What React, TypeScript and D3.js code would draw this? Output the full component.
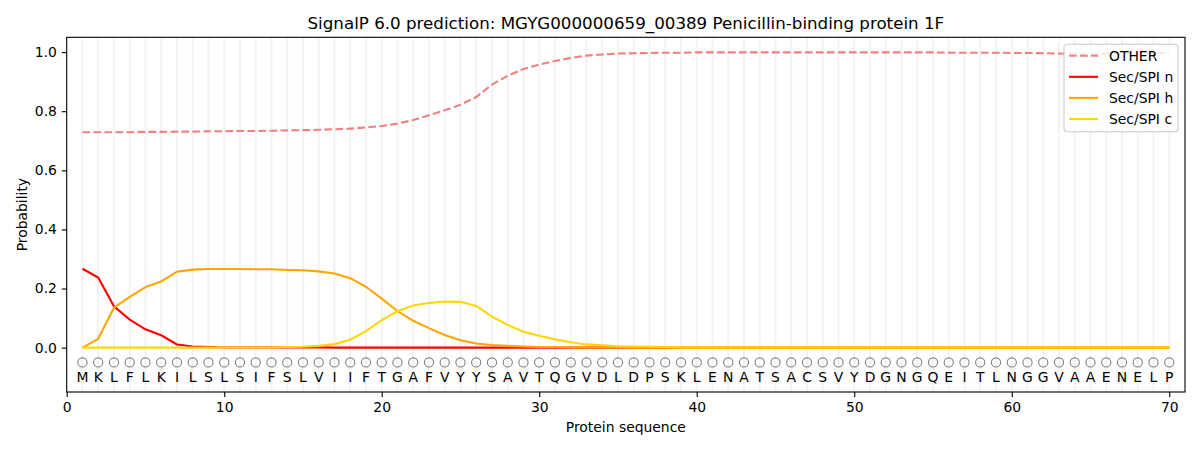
import { useRef, useEffect } from 'react';
import * as d3 from 'd3';

const sequence = 'MKLFLKILSLSIFSLVIIFTGAFVYYSAVTQGVDLDPSKLENATSACSVYDGNGQEITLNGGVAAENELP'.split('');

const otherProb = [
  0.729, 0.729, 0.729, 0.729, 0.73, 0.73, 0.731, 0.731, 0.732, 0.732,
  0.733, 0.733, 0.734, 0.735, 0.736, 0.737, 0.739, 0.741, 0.745, 0.75,
  0.758, 0.77, 0.786, 0.803, 0.822, 0.848, 0.89, 0.92, 0.943, 0.958,
  0.97, 0.98, 0.988, 0.992, 0.995, 0.996, 0.997, 0.998, 0.998, 0.999,
  0.999, 0.999, 0.999, 0.999, 0.999, 0.999, 0.999, 0.999, 0.999, 0.999,
  0.999, 0.999, 0.999, 0.999, 0.999, 0.998, 0.998, 0.998, 0.998, 0.997,
  0.997, 0.996, 0.995, 0.994, 0.994, 0.995, 0.995, 0.996, 0.996, 0.997,
];

const secN = [
  0.267, 0.237, 0.14, 0.095, 0.062, 0.042, 0.011, 0.004, 0.002, 0.001,
  0.001, 0.001, 0.001, 0.001, 0.001, 0.001, 0, 0, 0, 0,
  0, 0, 0, 0, 0, 0, 0, 0, 0, 0,
  0, 0, 0, 0, 0, 0, 0, 0, 0, 0,
  0, 0, 0, 0, 0, 0, 0, 0, 0, 0,
  0, 0, 0, 0, 0, 0, 0, 0, 0, 0,
  0, 0, 0, 0, 0, 0, 0, 0, 0, 0,
];

const secH = [
  0, 0.03, 0.135, 0.172, 0.205, 0.224, 0.257, 0.264, 0.266, 0.266,
  0.266, 0.265, 0.265, 0.263, 0.262, 0.258, 0.251, 0.235, 0.206, 0.166,
  0.124, 0.091, 0.066, 0.043, 0.025, 0.014, 0.009, 0.006, 0.004, 0.002,
  0.002, 0.001, 0.001, 0.001, 0.001, 0, 0, 0, 0, 0,
  0, 0, 0, 0, 0, 0, 0, 0, 0, 0,
  0, 0, 0, 0, 0, 0, 0, 0, 0, 0,
  0, 0, 0, 0, 0, 0, 0, 0, 0, 0,
];

const secC = [
  0, 0, 0, 0, 0, 0, 0, 0, 0, 0.001,
  0.001, 0.001, 0.001, 0.002, 0.003, 0.006, 0.012, 0.027, 0.056, 0.093,
  0.123, 0.143, 0.151, 0.156, 0.155, 0.141, 0.105, 0.077, 0.054, 0.04,
  0.028, 0.018, 0.011, 0.008, 0.005, 0.004, 0.003, 0.002, 0.001, 0.001,
  0.001, 0.001, 0.001, 0.001, 0.001, 0.001, 0.001, 0.001, 0.001, 0.001,
  0.001, 0.001, 0.001, 0.001, 0.001, 0.001, 0.001, 0.001, 0.001, 0.001,
  0.001, 0.001, 0.001, 0.001, 0.001, 0.001, 0.001, 0.001, 0.001, 0.001,
];

const xTicks = [0, 10, 20, 30, 40, 50, 60, 70];
const yTicks = [0, 0.2, 0.4, 0.6, 0.8, 1.0];

const series = [
  { name: 'OTHER', values: otherProb, color: '#f08080', dash: '7.7,3.3' },
  { name: 'Sec/SPI n', values: secN, color: '#ff0000', dash: null },
  { name: 'Sec/SPI h', values: secH, color: '#ffa500', dash: null },
  { name: 'Sec/SPI c', values: secC, color: '#ffd700', dash: null },
];

const App = () => {
  const svgRef = useRef<SVGSVGElement>(null);

  useEffect(() => {
    document.body.style.margin = '0';
    const font = 'DejaVu Sans, sans-serif';
    const svg = d3.select(svgRef.current)
      .attr('width', 1200)
      .attr('height', 450)
      .style('font-family', font);

    svg.selectAll('*').remove();

    const left = 66.7, right = 1185, top = 37.3, bottom = 392;
    const x = d3.scaleLinear().domain([0, 71]).range([left, right]);
    const y = d3.scaleLinear().domain([-0.15, 1.05]).range([bottom, top]);

    svg.append('rect').attr('width', 1200).attr('height', 450).attr('fill', 'white');

    // residue grid lines
    svg.append('g')
      .selectAll('line')
      .data(sequence)
      .enter()
      .append('line')
      .attr('x1', (_, i) => x(i + 1))
      .attr('x2', (_, i) => x(i + 1))
      .attr('y1', top)
      .attr('y2', bottom)
      .attr('stroke', '#f3f3f3')
      .attr('stroke-width', 2);

    // residue markers and letters
    svg.append('g')
      .selectAll('circle')
      .data(sequence)
      .enter()
      .append('circle')
      .attr('cx', (_, i) => x(i + 1))
      .attr('cy', y(-0.05))
      .attr('r', 4.6)
      .attr('fill', 'none')
      .attr('stroke', '#808080')
      .attr('stroke-width', 1.1);

    svg.append('g')
      .selectAll('text')
      .data(sequence)
      .enter()
      .append('text')
      .attr('x', (_, i) => x(i + 1))
      .attr('y', y(-0.1))
      .attr('dy', '0.36em')
      .attr('text-anchor', 'middle')
      .attr('font-size', 13.9)
      .attr('fill', 'black')
      .text(d => d);

    const line = d3.line<number>()
      .x((_, i) => x(i + 1))
      .y(d => y(d));

    series.forEach(s => {
      svg.append('path')
        .datum(s.values)
        .attr('d', line)
        .attr('fill', 'none')
        .attr('stroke', s.color)
        .attr('stroke-width', 2.08)
        .attr('stroke-dasharray', s.dash ?? null);
    });

    // axes
    const xAxis = svg.append('g')
      .attr('transform', `translate(0, ${bottom})`)
      .call(d3.axisBottom(x).tickValues(xTicks).tickSize(4.9).tickPadding(4.9).tickFormat(d3.format('d')));
    const yAxis = svg.append('g')
      .attr('transform', `translate(${left}, 0)`)
      .call(d3.axisLeft(y).tickValues(yTicks).tickSize(4.9).tickPadding(4.9).tickFormat(d3.format('.1f')));
    [xAxis, yAxis].forEach(a => {
      a.select('.domain').remove();
      a.selectAll('line').attr('stroke', 'black').attr('stroke-width', 1.1);
      a.selectAll('text').attr('font-size', 13.9).attr('font-family', font).attr('fill', 'black');
    });

    svg.append('rect')
      .attr('x', left).attr('y', top)
      .attr('width', right - left).attr('height', bottom - top)
      .attr('fill', 'none').attr('stroke', 'black').attr('stroke-width', 1.1);

    // labels
    svg.append('text')
      .attr('x', (left + right) / 2).attr('y', 29)
      .attr('text-anchor', 'middle').attr('font-size', 16.7)
      .text('SignalP 6.0 prediction: MGYG000000659_00389 Penicillin-binding protein 1F');
    svg.append('text')
      .attr('x', (left + right) / 2).attr('y', 432)
      .attr('text-anchor', 'middle').attr('font-size', 13.9)
      .text('Protein sequence');
    svg.append('text')
      .attr('transform', `translate(27, ${(top + bottom) / 2}) rotate(-90)`)
      .attr('text-anchor', 'middle').attr('font-size', 13.9)
      .text('Probability');

    // legend
    const legend = svg.append('g').attr('transform', 'translate(1064, 44.3)');
    legend.append('rect')
      .attr('width', 114).attr('height', 87.4).attr('rx', 3)
      .attr('fill', 'white').attr('fill-opacity', 0.8)
      .attr('stroke', '#cccccc').attr('stroke-width', 1.1);
    series.forEach((s, i) => {
      const ly = 11.4 + i * 21.1;
      legend.append('line')
        .attr('x1', 5).attr('x2', 34).attr('y1', ly).attr('y2', ly)
        .attr('stroke', s.color).attr('stroke-width', 2.08)
        .attr('stroke-dasharray', s.dash ?? null);
      legend.append('text')
        .attr('x', 45).attr('y', ly).attr('dy', '0.36em')
        .attr('font-size', 13.9)
        .text(s.name);
    });
  }, []);

  return <svg ref={svgRef}></svg>;
};

export default App;
